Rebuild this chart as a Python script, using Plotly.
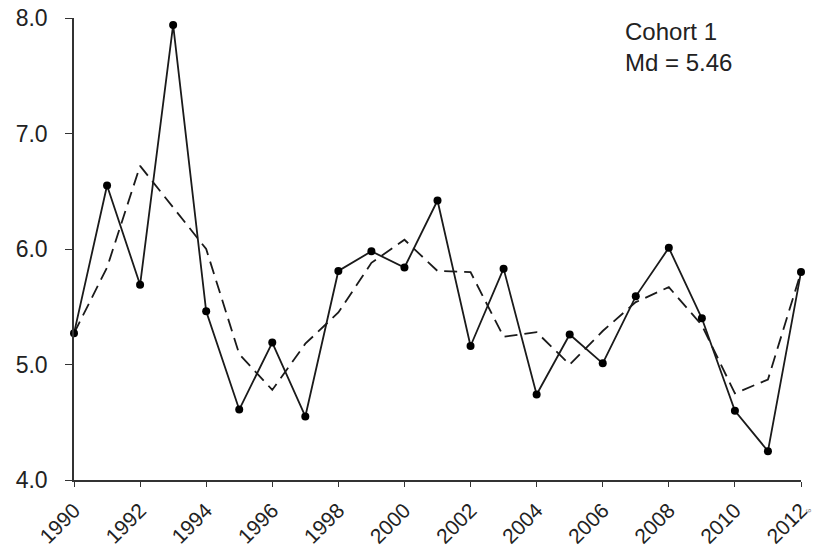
import plotly.graph_objects as go

# Yearly values for cohort 1 and their 3-year running mean
years = list(range(1990, 2013))
observed = [5.27, 6.55, 5.69, 7.94, 5.46, 4.61, 5.19, 4.55, 5.81, 5.98, 5.84, 6.42,
            5.16, 5.83, 4.74, 5.26, 5.01, 5.59, 6.01, 5.40, 4.60, 4.25, 5.80]
smoothed = [5.27, 5.84, 6.72, 6.36, 6.00, 5.09, 4.78, 5.18, 5.45, 5.88, 6.08, 5.81,
            5.80, 5.24, 5.28, 5.00, 5.29, 5.54, 5.67, 5.34, 4.75, 4.87, 5.80]

y_ticks = [4.0, 5.0, 6.0, 7.0, 8.0]
x_ticks = list(range(1990, 2013, 2))

ink = "#1a1a1a"
font_family = "Liberation Sans, Arial, sans-serif"

fig = go.Figure()

fig.add_trace(go.Scatter(
    x=years, y=smoothed, mode="lines",
    line=dict(color=ink, width=1.8, dash="13px,7px"),
    cliponaxis=False, showlegend=False,
))

fig.add_trace(go.Scatter(
    x=years, y=observed, mode="lines+markers",
    line=dict(color=ink, width=1.8),
    marker=dict(color="black", size=8),
    cliponaxis=False, showlegend=False,
))

fig.add_annotation(
    x=0.755, y=1.0, xref="paper", yref="paper", yshift=2,
    xanchor="left", yanchor="top", align="left",
    text="Cohort 1<br>Md = 5.46", showarrow=False,
    font=dict(family=font_family, size=24, color="#222"),
)

# small stray mark in the lower-right corner
fig.add_annotation(
    x=1.017, y=-0.075, xref="paper", yref="paper", showarrow=False,
    text="9", textangle=90,
    font=dict(family=font_family, size=7, color="#777"),
)

fig.update_layout(
    width=825, height=556,
    margin=dict(l=74, r=24, t=18, b=76),
    paper_bgcolor="white", plot_bgcolor="white",
    font=dict(family=font_family, size=23, color="#222"),
)

fig.update_xaxes(
    range=[1990, 2012], tickvals=x_ticks, ticktext=[str(t) for t in x_ticks],
    tickangle=-45, showgrid=False, zeroline=False, automargin=False,
    showline=True, linecolor="#333", linewidth=1.5,
    ticks="outside", ticklen=5, tickcolor="#333", tickwidth=1.2,
    ticklabelstandoff=3, tickfont=dict(size=21),
)

fig.update_yaxes(
    range=[4, 8], tickvals=y_ticks, ticktext=[f"{v:.1f}" for v in y_ticks],
    showgrid=False, zeroline=False, automargin=False,
    showline=True, linecolor="#333", linewidth=1.5,
    ticks="outside", ticklen=7, tickcolor="#333", tickwidth=1.2,
    ticklabelstandoff=13,
)

fig.write_html("out.html")
